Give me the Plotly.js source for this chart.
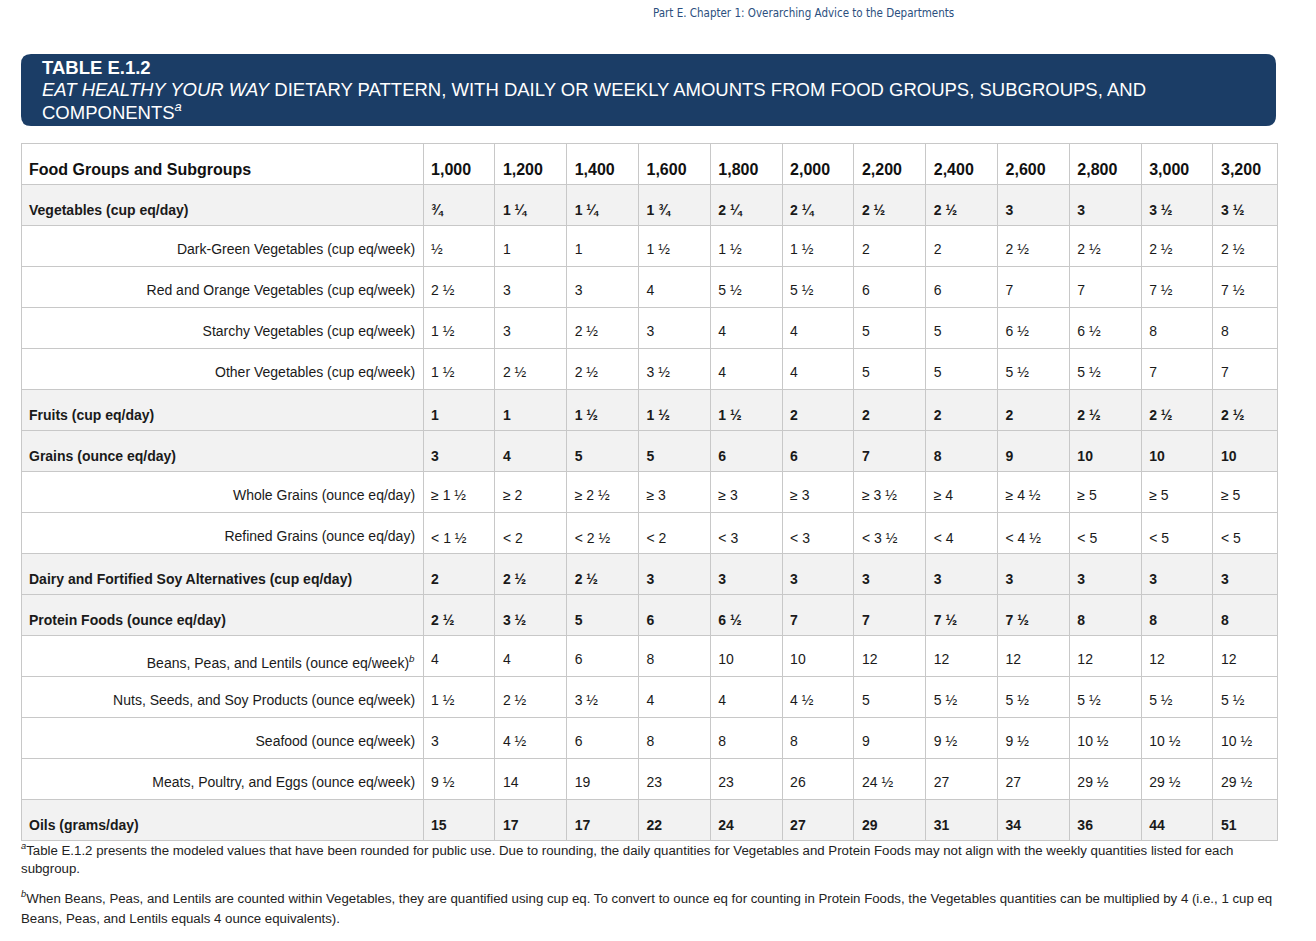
<!DOCTYPE html>
<html><head><meta charset="utf-8">
<script src="https://cdn.plot.ly/plotly-3.0.1.min.js"></script>
<style>html,body{margin:0;padding:0;background:#fff}</style>
</head><body><div id="chart" style="width:1316px;height:941px"></div>
<script>
const calories = ["1,000","1,200","1,400","1,600","1,800","2,000","2,200","2,400","2,600","2,800","3,000","3,200"];
const rowLabels = [
  "Vegetables (cup eq/day)",
  "Dark-Green Vegetables (cup eq/week)",
  "Red and Orange Vegetables (cup eq/week)",
  "Starchy Vegetables (cup eq/week)",
  "Other Vegetables (cup eq/week)",
  "Fruits (cup eq/day)",
  "Grains (ounce eq/day)",
  "Whole Grains (ounce eq/day)",
  "Refined Grains (ounce eq/day)",
  "Dairy and Fortified Soy Alternatives (cup eq/day)",
  "Protein Foods (ounce eq/day)",
  "Beans, Peas, and Lentils (ounce eq/week)<sup><i>b</i></sup>",
  "Nuts, Seeds, and Soy Products (ounce eq/week)",
  "Seafood (ounce eq/week)",
  "Meats, Poultry, and Eggs (ounce eq/week)",
  "Oils (grams/day)"
];
const isGroup = [true,false,false,false,false,true,true,false,false,true,true,false,false,false,false,true];
const vegetables = ["¾","1 ¼","1 ¼","1 ¾","2 ¼","2 ¼","2 ½","2 ½","3","3","3 ½","3 ½"];
const darkGreen = ["½","1","1","1 ½","1 ½","1 ½","2","2","2 ½","2 ½","2 ½","2 ½"];
const redOrange = ["2 ½","3","3","4","5 ½","5 ½","6","6","7","7","7 ½","7 ½"];
const starchy = ["1 ½","3","2 ½","3","4","4","5","5","6 ½","6 ½","8","8"];
const otherVeg = ["1 ½","2 ½","2 ½","3 ½","4","4","5","5","5 ½","5 ½","7","7"];
const fruits = ["1","1","1 ½","1 ½","1 ½","2","2","2","2","2 ½","2 ½","2 ½"];
const grains = ["3","4","5","5","6","6","7","8","9","10","10","10"];
const wholeGrains = ["≥ 1 ½","≥ 2","≥ 2 ½","≥ 3","≥ 3","≥ 3","≥ 3 ½","≥ 4","≥ 4 ½","≥ 5","≥ 5","≥ 5"];
const refinedGrains = ["&lt; 1 ½","&lt; 2","&lt; 2 ½","&lt; 2","&lt; 3","&lt; 3","&lt; 3 ½","&lt; 4","&lt; 4 ½","&lt; 5","&lt; 5","&lt; 5"];
const dairy = ["2","2 ½","2 ½","3","3","3","3","3","3","3","3","3"];
const protein = ["2 ½","3 ½","5","6","6 ½","7","7","7 ½","7 ½","8","8","8"];
const beans = ["4","4","6","8","10","10","12","12","12","12","12","12"];
const nuts = ["1 ½","2 ½","3 ½","4","4","4 ½","5","5 ½","5 ½","5 ½","5 ½","5 ½"];
const seafood = ["3","4 ½","6","8","8","8","9","9 ½","9 ½","10 ½","10 ½","10 ½"];
const meats = ["9 ½","14","19","23","23","26","24 ½","27","27","29 ½","29 ½","29 ½"];
const oils = ["15","17","17","22","24","27","29","31","34","36","44","51"];

const rows = [vegetables,darkGreen,redOrange,starchy,otherVeg,fruits,grains,wholeGrains,refinedGrains,dairy,protein,beans,nuts,seafood,meats,oils];

const W = 1316, H = 941;
const px = x => x / W;
const py = y => 1 - y / H;

const b = (s, g) => g ? "<b>" + s + "</b>" : s;
const col0 = rowLabels.map((l, i) => b(l, isGroup[i]));
const dataCols = calories.map((c, j) => rows.map((r, i) => b(r[j], isGroup[i])));
const cellValues = [col0].concat(dataCols);
const blankValues = cellValues.map(col => col.map(() => ""));
const fillRow = isGroup.map(g => g ? "#f2f2f2" : "#ffffff");
const fillColors = cellValues.map(() => fillRow);
const align0 = isGroup.map(g => g ? "left" : "right");
const aligns = cellValues.map((c, k) => k === 0 ? align0 : isGroup.map(() => "left"));

const headerValues = ["<b>Food Groups and Subgroups</b>"].concat(calories.map(c => "<b>" + c + "</b>"));
const blankHeader = headerValues.map(() => "");

const FONT = "Liberation Sans, Arial, sans-serif";
const colWidths = [402].concat(calories.map((c, j) => j === 11 ? 64 : 71.8));
const CLEAR = "rgba(0,0,0,0)";

// grid: fills and lines only
const gridTrace = {
  type: "table",
  domain: {x: [px(21), px(1277)], y: [0, py(143)]},
  columnwidth: colWidths,
  header: {
    values: blankHeader, align: "left", height: 41,
    fill: {color: "#ffffff"},
    line: {color: "#c8c8c8", width: 1},
    font: {family: FONT, size: 16, color: "#111111"}
  },
  cells: {
    values: blankValues, align: aligns, height: 41,
    fill: {color: fillColors},
    line: {color: "#c8c8c8", width: 1},
    font: {family: FONT, size: 14, color: "#1a1a1a"}
  }
};
// text layer, shifted down to sit low in each row like the original
const SHIFT = 10;
const textTrace = {
  type: "table",
  domain: {x: [px(21), px(1277)], y: [0, py(143 + SHIFT)]},
  columnwidth: colWidths,
  header: {
    values: headerValues, align: "left", height: 41,
    fill: {color: CLEAR},
    line: {color: CLEAR, width: 0},
    font: {family: FONT, size: 16, color: "#111111"}
  },
  cells: {
    values: cellValues, align: aligns, height: 41,
    fill: {color: CLEAR},
    line: {color: CLEAR, width: 0},
    font: {family: FONT, size: 14, color: "#1a1a1a"}
  }
};

const r = 10;
const x0 = 21, x1 = 1276, y0 = 54, y1 = 126;
const bannerPath = [
  "M", px(x0 + r), py(y0),
  "L", px(x1 - r), py(y0),
  "Q", px(x1), py(y0), px(x1), py(y0 + r),
  "L", px(x1), py(y1 - r),
  "Q", px(x1), py(y1), px(x1 - r), py(y1),
  "L", px(x0 + r), py(y1),
  "Q", px(x0), py(y1), px(x0), py(y1 - r),
  "L", px(x0), py(y0 + r),
  "Q", px(x0), py(y0), px(x0 + r), py(y0), "Z"
].join(" ");

const ann = (text, x, y, size, opts) => Object.assign({
  text: text, xref: "paper", yref: "paper", x: px(x), y: py(y),
  xanchor: "left", yanchor: "middle", showarrow: false, align: "left",
  font: {family: FONT, size: size, color: "#222222"}
}, opts || {});

const WHITE = {family: FONT, size: 18.5, color: "#ffffff"};
const layout = {
  width: W, height: H,
  margin: {l: 0, r: 0, t: 0, b: 0},
  paper_bgcolor: "#ffffff",
  showlegend: false,
  shapes: [{type: "path", xref: "paper", yref: "paper", path: bannerPath,
            fillcolor: "#1b3d66", line: {width: 0}, layer: "below"}],
  annotations: [
    ann("Part E. Chapter 1: Overarching Advice to the Departments", 803, 13, 11.5,
        {xanchor: "center", font: {family: "DejaVu Sans Condensed, Liberation Sans Narrow, sans-serif", size: 11.5, color: "#2b4f7e"}}),
    ann("<b>TABLE E.1.2</b>", 40, 68, 18.5, {font: WHITE}),
    ann("<i>EAT HEALTHY YOUR WAY</i> DIETARY PATTERN, WITH DAILY OR WEEKLY AMOUNTS FROM FOOD GROUPS, SUBGROUPS, AND", 40, 89, 18.5, {font: WHITE}),
    ann("COMPONENTS<sup><i>a</i></sup>", 40, 111, 18.5, {font: WHITE}),
    ann("<sup><i>a</i></sup>Table E.1.2 presents the modeled values that have been rounded for public use. Due to rounding, the daily quantities for Vegetables and Protein Foods may not align with the weekly quantities listed for each", 19, 849, 13.25),
    ann("subgroup.", 19, 868, 13.25),
    ann("<sup><i>b</i></sup>When Beans, Peas, and Lentils are counted within Vegetables, they are quantified using cup eq. To convert to ounce eq for counting in Protein Foods, the Vegetables quantities can be multiplied by 4 (i.e., 1 cup eq", 19, 897, 13.25),
    ann("Beans, Peas, and Lentils equals 4 ounce equivalents).", 19, 918, 13.25)
  ]
};

Plotly.newPlot("chart", [gridTrace, textTrace], layout, {displayModeBar: false, staticPlot: true});
</script></body></html>
